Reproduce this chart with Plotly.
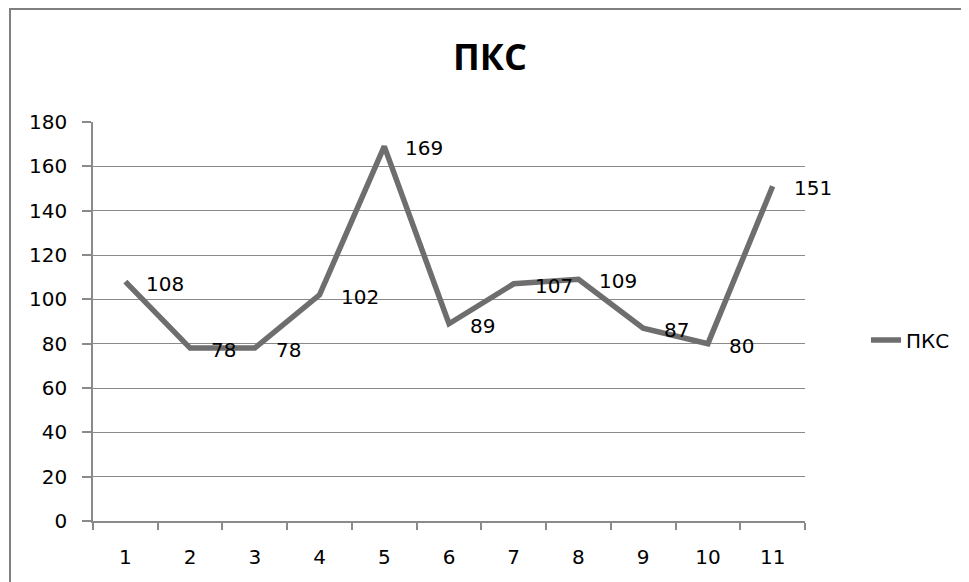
import plotly.graph_objects as go

categories = ["1", "2", "3", "4", "5", "6", "7", "8", "9", "10", "11"]
values = [108, 78, 78, 102, 169, 89, 107, 109, 87, 80, 151]
series_name = "ПКС"
title_text = "ПКС"

# the page shows the figure offset by the body margin (8px)
OFF = 8
W, H = 969 - OFF, 582 - OFF
L, R, T, B = 93 - OFF, 805 - OFF, 122 - OFF, 521 - OFF
pw, ph = R - L, B - T

font_family = "DejaVu Sans"
line_color = "#6e6e6e"
grid_color = "#8a8a8a"
fs = 20

fig = go.Figure()
fig.add_trace(go.Scatter(
    x=categories, y=values, mode="lines", name=series_name,
    line=dict(color=line_color, width=5.5),
))

annotations = []
for i, v in enumerate(values):
    annotations.append(dict(
        x=i, y=v, xref="x", yref="y", text=str(v), showarrow=False,
        xanchor="left", yanchor="middle", xshift=19, yshift=-2,
        font=dict(family=font_family, size=fs, color="#000000"),
    ))

fig.update_layout(
    width=W, height=H,
    margin=dict(l=L, r=W - R, t=T, b=H - B, pad=0),
    paper_bgcolor="white", plot_bgcolor="white",
    title=dict(text="<b>" + title_text + "</b>", x=(490 - OFF) / W, xanchor="center",
               y=1 - (57 - OFF) / H, yanchor="middle",
               font=dict(family="Open Sans", size=36, color="#000000")),
    showlegend=True,
    legend=dict(x=(866 - OFF - L) / pw, y=(B - (340 - OFF)) / ph, xanchor="left", yanchor="middle",
                font=dict(family=font_family, size=fs, color="#000000"),
                bgcolor="rgba(0,0,0,0)", itemwidth=30),
    annotations=annotations,
    shapes=[dict(type="rect", xref="paper", yref="paper",
                 x0=(10 - OFF - L) / pw, x1=1.5, y0=-0.5, y1=(B - (9 - OFF)) / ph,
                 line=dict(color="#7f7f7f", width=2), fillcolor="rgba(0,0,0,0)",
                 layer="below")],
)

fig.update_xaxes(
    type="category", tickson="boundaries", ticks="outside", ticklen=7,
    tickcolor=grid_color, tickwidth=1.5,
    showline=True, linecolor=grid_color, linewidth=1.5,
    showgrid=False, zeroline=False,
    tickfont=dict(family=font_family, size=fs, color="#000000"),
    ticklabelstandoff=17,
    range=[-0.5, len(categories) - 0.5],
)
fig.update_yaxes(
    range=[0, 180], dtick=20, tick0=0, ticks="outside", ticklen=9,
    tickcolor=grid_color, tickwidth=1.5,
    showline=True, linecolor=grid_color, linewidth=1.5,
    showgrid=True, gridcolor=grid_color, gridwidth=1.2, zeroline=False,
    tickfont=dict(family=font_family, size=fs, color="#000000"),
    ticklabelstandoff=11,
)

fig.write_html("out.html")
